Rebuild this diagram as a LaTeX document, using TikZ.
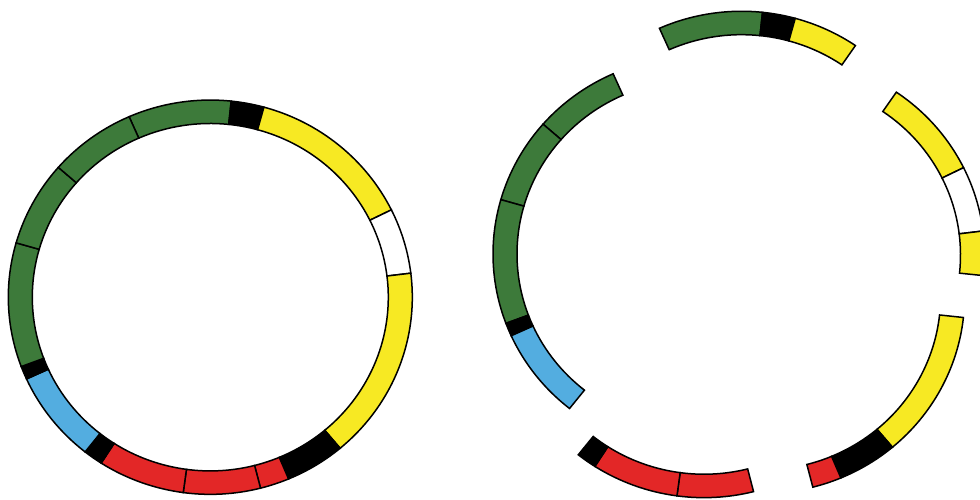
\documentclass[tikz,border=0pt]{standalone}
\usepackage{tikz}
\definecolor{gr}{RGB}{61,122,58}
\definecolor{ye}{RGB}{247,233,35}
\definecolor{rd}{RGB}{227,39,39}
\definecolor{bl}{RGB}{83,173,224}
\tikzset{segline/.style={draw=black, line width=1.5pt, line join=miter}}
\newcommand{\ringpiece}[2]{%
  \begin{scope}[shift={#1}, yscale=-0.976]
    \foreach \a/\b/\c in {#2} {
      \filldraw[segline, fill=\c] (\a:202) arc[start angle=\a, end angle=\b, radius=202]
        -- (\b:178) arc[start angle=\b, end angle=\a, radius=178] -- cycle;
    }
  \end{scope}}
\begin{document}
\begin{tikzpicture}[x=1pt, y=-1pt]
\fill[white] (0,0) rectangle (980,499);
\useasboundingbox (0,0) rectangle (980,499);
% left ring
\ringpiece{(210.3,297.2)}{84.06/113.7/gr, 74.6/84.06/black, 26.3/74.6/ye, 7.0/26.3/white, -50.0/7.0/ye, -67.2/-50.0/black, -75.6/-67.2/rd, -97.7/-75.6/rd, -122.7/-97.7/rd, -128.3/-122.7/black, -155.5/-128.3/bl, -159.4/-155.5/black, 164.0/200.6/gr, 138.8/164.0/gr, 113.7/138.8/gr}
% right ring, exploded pieces
\ringpiece{(741.6,208.4)}{84.06/114.0/gr, 74.6/84.06/black, 55.7/74.6/ye}
\ringpiece{(782.5,255.0)}{26.3/55.7/ye, 7.0/26.3/white, -6.0/7.0/ye}
\ringpiece{(762.6,296.2)}{-50.0/-6.2/ye, -67.2/-50.0/black, -75.6/-67.2/rd}
\ringpiece{(704.0,300.5)}{-97.7/-75.8/rd, -122.7/-97.7/rd, -128.5/-122.7/black}
\ringpiece{(695.0,254.0)}{113.9/138.8/gr, 138.8/164.0/gr, 164.0/200.6/gr, 200.6/204.5/black, 204.5/231.6/bl}
\end{tikzpicture}
\end{document}
